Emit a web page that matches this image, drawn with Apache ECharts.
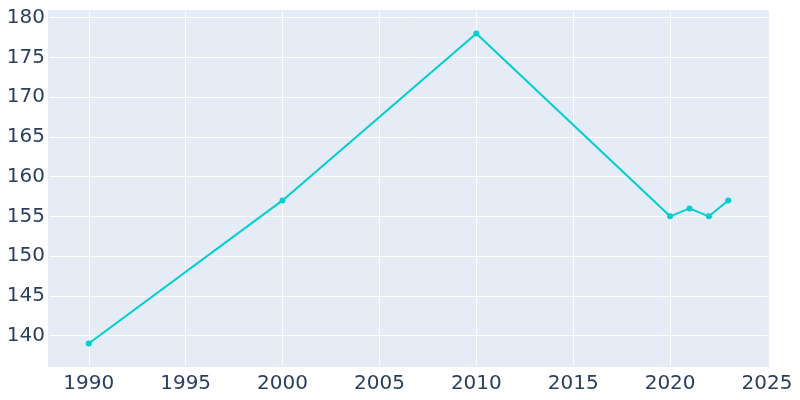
<!DOCTYPE html>
<html><head><meta charset="utf-8">
<script src="https://cdn.jsdelivr.net/npm/echarts@6/dist/echarts.min.js"></script>
<style>html,body{margin:0;padding:0;background:#fff}#c{width:800px;height:400px}</style>
</head><body><div id="c"></div>
<script>
const years = [1990, 2000, 2010, 2020, 2021, 2022, 2023];
const population = [139, 157, 178, 155, 156, 155, 157];

const chart = echarts.init(document.getElementById('c'));
const font = 'DejaVu Sans';
chart.setOption({
  animation: false,
  backgroundColor: '#fff',
  grid: {left: 50, right: 33, top: 12, bottom: 35, show: false},
  graphic: [{type: 'rect', z: -10, shape: {x: 48, y: 10, width: 721, height: 357}, style: {fill: '#E5ECF6'}, silent: true}],
  xAxis: {
    type: 'value', min: 1988, max: 2025, splitNumber: 7,
    axisLine: {show: false}, axisTick: {show: false},
    splitLine: {lineStyle: {color: '#fff', width: 1}, showMinLine: false, showMaxLine: false},
    axisLabel: {color: '#2a3f5f', fontSize: 20, fontFamily: font, margin: 9, showMinLabel: false, showMaxLabel: true,
      formatter: v => (Math.abs(v - Math.round(v)) < 1e-6 && Math.round(v) % 5 === 0) ? String(Math.round(v)) : ''}
  },
  yAxis: {
    type: 'value', min: 136.3, max: 180.7, splitNumber: 9,
    axisLine: {show: false}, axisTick: {show: false},
    splitLine: {lineStyle: {color: '#fff', width: 1}, showMinLine: false, showMaxLine: false},
    axisLabel: {color: '#2a3f5f', fontSize: 20, fontFamily: font, margin: 5, showMinLabel: false, showMaxLabel: false}
  },
  series: [{
    type: 'line', data: years.map((y, i) => [y, population[i]]),
    lineStyle: {color: '#00CED1', width: 2}, itemStyle: {color: '#00CED1'},
    symbol: 'circle', symbolSize: 6, showSymbol: true
  }]
});
</script></body></html>
